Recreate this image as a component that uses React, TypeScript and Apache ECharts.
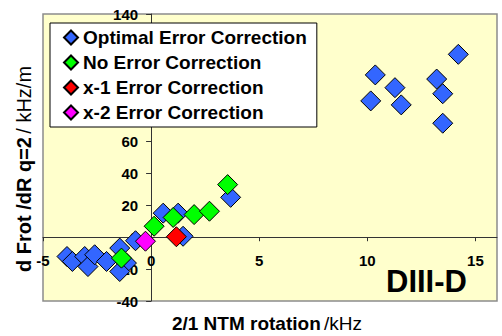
import React, { useEffect, useRef } from "react";
import * as echarts from "echarts";

const seriesNames = [
  "Optimal Error Correction",
  "No Error Correction",
  "x-1 Error Correction",
  "x-2 Error Correction",
];
const seriesColors = ["#3366FF", "#00FF00", "#FF0000", "#FF00FF"];

const optimalData: [number, number][] = [
  [-3.89, -12.1],
  [-3.64, -15.2],
  [-3.07, -12.1],
  [-2.92, -18.4],
  [-2.61, -11.0],
  [-2.06, -15.2],
  [-1.45, -6.8],
  [-1.14, -16.2],
  [-1.45, -21.5],
  [-0.72, -2.2],
  [0.56, 15.1],
  [1.25, 15.1],
  [1.48, 0.6],
  [3.68, 25.0],
  [10.37, 101.8],
  [11.28, 93.8],
  [10.16, 85.5],
  [11.57, 83.0],
  [14.21, 114.7],
  [13.21, 99.2],
  [13.49, 90.0],
  [13.49, 71.5],
];
const noCorrectionData: [number, number][] = [
  [-1.37, -13.1],
  [0.14, 6.9],
  [1.02, 12.4],
  [1.99, 14.2],
  [2.7, 16.3],
  [3.54, 33.0],
];
const x1Data: [number, number][] = [[1.17, 0.3]];
const x2Data: [number, number][] = [[-0.26, -2.5]];

const xMin = -5;
const xMax = 16;
const yMin = -40;
const yMax = 140;

const FONT = "'Liberation Sans', Arial, sans-serif";

const W = 502;
const H = 336;
const GRID = { left: 43, right: 5, top: 14, bottom: 35 };

export default function App() {
  const ref = useRef<HTMLDivElement>(null);
  useEffect(() => {
    if (!ref.current) return;
    const chart = echarts.init(ref.current, null, { renderer: "svg" });
    const allData = [optimalData, noCorrectionData, x1Data, x2Data];
    const gridW = W - GRID.left - GRID.right;
    const gridH = H - GRID.top - GRID.bottom;
    // place axes on the other axis's zero
    const xAxisOffset = -((0 - yMin) / (yMax - yMin)) * gridH;
    const yAxisOffset = -((0 - xMin) / (xMax - xMin)) * gridW;
    chart.setOption({
      animation: false,
      backgroundColor: "#FFFFFF",
      grid: {
        ...GRID,
        show: true,
        backgroundColor: "#FFFFCC",
        borderColor: "#8C8C8C",
        borderWidth: 1.5,
      },
      legend: {
        orient: "vertical",
        left: 50,
        top: 23,
        backgroundColor: "#FFFFFF",
        borderColor: "#000000",
        borderWidth: 1,
        padding: [5, 10, 5, 13],
        itemGap: 6,
        itemWidth: 14,
        itemHeight: 14,
        icon: "diamond",
        z: 10,
        textStyle: {
          fontFamily: FONT,
          fontWeight: "bold",
          fontSize: 19,
          color: "#000000",
        },
        data: seriesNames,
      },
      xAxis: {
        type: "value",
        min: xMin,
        max: xMax,
        interval: 5,
        position: "bottom",
        offset: xAxisOffset,
        axisLine: { onZero: false, lineStyle: { color: "#333333", width: 1 } },
        axisTick: { show: true, length: 4, lineStyle: { color: "#333333" } },
        axisLabel: {
          margin: 16,
          showMaxLabel: false,
          fontFamily: FONT,
          fontWeight: "bold",
          fontSize: 15,
          color: "#000000",
        },
        splitLine: { show: false },
      },
      yAxis: {
        type: "value",
        min: yMin,
        max: yMax,
        interval: 20,
        position: "left",
        offset: yAxisOffset,
        axisLine: { onZero: false, lineStyle: { color: "#333333", width: 1 } },
        axisTick: { show: true, length: 5, lineStyle: { color: "#333333" } },
        axisLabel: {
          margin: 13,
          fontFamily: FONT,
          fontWeight: "bold",
          fontSize: 15,
          color: "#000000",
        },
        splitLine: { show: false },
      },
      series: seriesNames.map((name, i) => ({
        name,
        type: "scatter",
        symbol: "diamond",
        symbolSize: 20,
        data: allData[i],
        itemStyle: {
          color: seriesColors[i],
          borderColor: "#000000",
          borderWidth: 1,
          opacity: 1,
        },
        emphasis: { disabled: true },
      })),
      graphic: [
        {
          type: "text",
          x: 24,
          y: 169,
          rotation: Math.PI / 2,
          style: {
            text: "{b|d Frot /dR q=2} {n|/ kHz/m}",
            align: "center",
            verticalAlign: "middle",
            rich: {
              b: { fontFamily: FONT, fontWeight: "bold", fontSize: 20, fill: "#000" },
              n: { fontFamily: FONT, fontWeight: "normal", fontSize: 20, fill: "#000" },
            },
          },
        },
        {
          type: "text",
          x: 267,
          y: 323,
          style: {
            text: "{b|2/1 NTM rotation} {n|/kHz}",
            align: "center",
            verticalAlign: "middle",
            rich: {
              b: { fontFamily: FONT, fontWeight: "bold", fontSize: 19, fill: "#000" },
              n: { fontFamily: FONT, fontWeight: "normal", fontSize: 19, fill: "#000" },
            },
          },
        },
        {
          type: "text",
          x: 386,
          y: 281,
          style: {
            text: "DIII-D",
            align: "left",
            verticalAlign: "middle",
            fontFamily: FONT,
            fontWeight: "bold",
            fontSize: 31,
            fill: "#000",
          },
        },
      ],
    });
    return () => chart.dispose();
  }, []);
  return (
    <div
      ref={ref}
      style={{ position: "fixed", left: 0, top: 0, width: W, height: H }}
    />
  );
}
